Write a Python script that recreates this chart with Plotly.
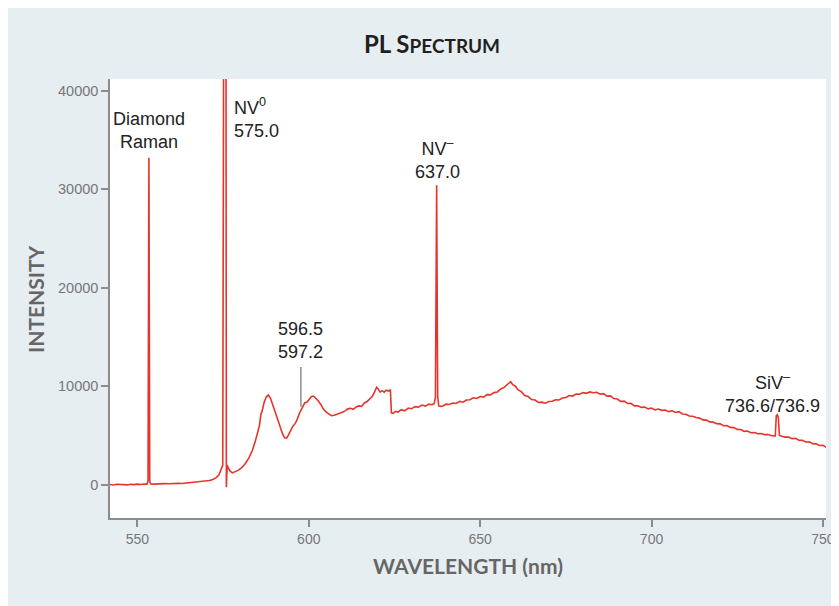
import plotly.graph_objects as go

# Wavelength (nm) and intensity
wavelength = [
    542.0, 543.0, 544.0, 545.0, 546.0, 547.0, 548.0, 549.0, 550.0, 551.0, 552.0, 552.8,
    553.1, 553.35, 553.6, 553.9, 555.0, 556.0, 557.0, 558.0, 559.0, 560.0, 561.0, 562.0,
    563.0, 564.0, 565.0, 566.0, 567.0, 568.0, 569.0, 570.0, 571.0, 572.0, 573.0, 573.8,
    574.5, 574.9, 575.15, 575.85, 575.95, 576.2, 576.5, 577.0, 577.7, 578.5, 579.5, 580.5,
    581.5, 582.5, 583.5, 584.3, 585.0, 585.6, 586.0, 586.4, 587.0, 587.6, 588.2, 588.8,
    589.5, 590.3, 591.0, 591.7, 592.4, 593.0, 593.5, 594.0, 594.6, 595.3, 596.0, 596.6,
    597.2, 597.7, 598.2, 598.8, 599.5, 600.2, 600.8, 601.4, 602.0, 602.8, 603.5, 604.2,
    605.0, 605.8, 606.6, 607.4, 608.2, 609.0, 609.8, 610.6, 611.4, 612.2, 613.0, 613.8,
    614.6, 615.4, 616.2, 617.0, 617.8, 618.6, 619.3, 619.8, 620.3, 620.8, 621.4, 622.0,
    622.6, 623.3, 623.8, 624.1, 624.6, 625.3, 626.0, 627.0, 628.0, 629.0, 630.0, 631.0,
    632.0, 633.0, 634.0, 635.0, 636.0, 636.6, 636.95, 637.3, 637.6, 637.9, 638.5, 639.3,
    640.0, 641.0, 642.0, 643.0, 644.0, 645.0, 646.0, 647.0, 648.0, 649.0, 650.0, 651.0,
    652.0, 653.0, 654.0, 655.0, 656.0, 657.0, 658.0, 658.9, 659.5, 660.3, 661.0, 662.0,
    663.0, 664.0, 665.0, 666.0, 667.0, 668.0, 669.0, 670.0, 671.0, 672.0, 673.0, 674.0,
    675.0, 676.0, 677.0, 678.0, 679.0, 680.0, 681.0, 682.0, 683.0, 684.0, 685.0, 686.0,
    687.0, 688.0, 689.0, 690.0, 691.0, 692.0, 693.0, 694.0, 695.0, 696.0, 697.0, 698.0,
    699.0, 700.0, 701.0, 702.0, 703.0, 704.0, 705.0, 706.0, 707.0, 708.0, 709.0, 710.0,
    711.0, 712.0, 713.0, 714.0, 715.0, 716.0, 717.0, 718.0, 719.0, 720.0, 721.0, 722.0,
    723.0, 724.0, 725.0, 726.0, 727.0, 728.0, 729.0, 730.0, 731.0, 732.0, 733.0, 734.0,
    735.0, 736.1, 736.4, 736.7, 737.0, 737.3, 738.0, 739.0, 740.0, 741.0, 742.0, 743.0,
    744.0, 745.0, 746.0, 747.0, 748.0, 749.0, 750.0, 751.0,
]
intensity = [
    20, -30, 40, 0, 30, -20, 50, 10, 60, 20, 70, 60,
    400, 33200, 300, 80, 60, 100, 70, 110, 90, 120, 100, 140,
    130, 170, 160, 200, 230, 260, 300, 360, 430, 540, 720, 1000,
    1600, 2000, 45000, 45000, -250, 2000, 1700, 1400, 1200, 1300, 1480, 1750,
    2150, 2700, 3450, 4300, 5200, 6000, 7100, 7500, 8400, 8900, 9100, 8800,
    8100, 7300, 6500, 5700, 5100, 4750, 4700, 5000, 5500, 5900, 6200, 6600,
    7200, 7600, 7900, 8300, 8400, 8700, 8950, 9000, 8800, 8500, 8150, 7700,
    7400, 7150, 7000, 7050, 7150, 7200, 7350, 7500, 7700, 7750, 7650, 7900,
    8000, 7950, 8300, 8450, 8700, 9000, 9500, 9900, 9700, 9400, 9550, 9400,
    9600, 9500, 9650, 7300, 7250, 7450, 7380, 7620, 7500, 7780, 7720, 7930,
    7880, 8090, 7980, 8180, 8120, 8250, 8900, 30400, 9000, 8000, 7950, 8020,
    8180, 8150, 8300, 8250, 8460, 8380, 8600, 8620, 8820, 8760, 8950, 8900,
    9150, 9120, 9350, 9420, 9720, 9880, 10200, 10450, 10150, 10000, 9650, 9450,
    9050, 8950, 8650, 8600, 8350, 8380, 8280, 8450, 8480, 8620, 8600, 8800,
    8850, 9050, 9000, 9200, 9180, 9350, 9280, 9420, 9330, 9380, 9200, 9250,
    9000, 9020, 8750, 8700, 8450, 8480, 8250, 8260, 8000, 8020, 7850, 7880,
    7700, 7780, 7600, 7680, 7550, 7580, 7420, 7500, 7330, 7420, 7180, 7150,
    6980, 6950, 6820, 6760, 6580, 6560, 6380, 6350, 6200, 6180, 5980, 6000,
    5820, 5800, 5620, 5600, 5420, 5450, 5280, 5300, 5170, 5200, 5080, 5100,
    4980, 4950, 7000, 7100, 6800, 5000, 4920, 4830, 4850, 4680, 4700, 4520,
    4500, 4330, 4350, 4170, 4150, 3980, 4000, 3800,
]

x_ticks = [550, 600, 650, 700, 750]
y_ticks = [0, 10000, 20000, 30000, 40000]

panel = "#e7eef2"
red = "#e8332b"
axis_gray = "#8c8c8c"
tick_gray = "#777777"

W, H = 839, 606

fig = go.Figure()
fig.add_trace(go.Scatter(
    x=wavelength, y=intensity, mode="lines",
    line=dict(color=red, width=1.6), hoverinfo="skip", showlegend=False,
))

fig.update_layout(
    width=W, height=H, autosize=False,
    margin=dict(l=102, r=16, t=71, b=96),
    paper_bgcolor=panel, plot_bgcolor="white",
    font=dict(family="Liberation Sans, Arial, sans-serif", color="#222222"),
    title=dict(
        text="PL S<span style='font-size:19px'>PECTRUM</span>",
        x=424 / W, xref="container", xanchor="center",
        y=1 - 37 / H, yref="container", yanchor="middle",
        font=dict(family="Lato, sans-serif", size=24, color="#231f20", weight="bold"),
    ),
    xaxis=dict(
        range=[542, 750.9], tickvals=x_ticks, ticktext=[str(v) for v in x_ticks],
        showgrid=False, zeroline=False, showline=True, linecolor=axis_gray, linewidth=1.5,
        ticks="outside", ticklen=7, tickwidth=1.5, tickcolor=axis_gray,
        tickfont=dict(size=14, color=tick_gray), ticklabeloverflow="allow",
    ),
    yaxis=dict(
        range=[-3380, 41190], tickvals=y_ticks, ticktext=[str(v) for v in y_ticks],
        showgrid=False, zeroline=False, showline=True, linecolor=axis_gray, linewidth=1.5,
        ticks="outside", ticklen=7, tickwidth=1.5, tickcolor=axis_gray,
        tickfont=dict(size=14.5, color=tick_gray),
    ),
)

# axis titles
fig.add_annotation(text="INTENSITY", xref="paper", yref="paper",
                   x=(27 - 102) / 720.7, y=0.5, xanchor="center", yanchor="middle",
                   textangle=-90, showarrow=False,
                   font=dict(family="Lato, sans-serif", size=21, color="#666666", weight="bold"))
fig.add_annotation(text="WAVELENGTH (nm)", xref="paper", yref="paper",
                   x=0.5, y=(510 - 557) / 439, xanchor="center", yanchor="middle",
                   showarrow=False,
                   font=dict(family="Lato, sans-serif", size=21, color="#666666", weight="bold"))

# peak labels
lab_font = dict(family="Liberation Sans, Arial, sans-serif", size=18, color="#222222")
fig.add_annotation(text="Diamond<br>Raman", x=553.4, y=36000, showarrow=False,
                   align="center", font=lab_font)
fig.add_annotation(text="NV<sup>0</sup><br>575.0", x=577.6, y=37220, showarrow=False,
                   xanchor="left", align="left", font=lab_font)
fig.add_annotation(text="596.5<br>597.2", x=597.6, y=14690, showarrow=False,
                   align="center", font=lab_font)
fig.add_annotation(text="NV<sup>–</sup><br>637.0", x=637.6, y=33060, showarrow=False,
                   align="center", font=lab_font)
fig.add_annotation(text="SiV<sup>–</sup><br>736.6/736.9", x=735.4, y=9360, showarrow=False,
                   align="center", font=lab_font)
fig.add_shape(type="line", x0=597.7, x1=597.7, y0=11950, y1=7900,
              line=dict(color="#555555", width=1))

fig.write_html(
    "out.html",
    post_script="document.documentElement.style.overflow='hidden';"
                "document.body.style.overflow='hidden';",
)
